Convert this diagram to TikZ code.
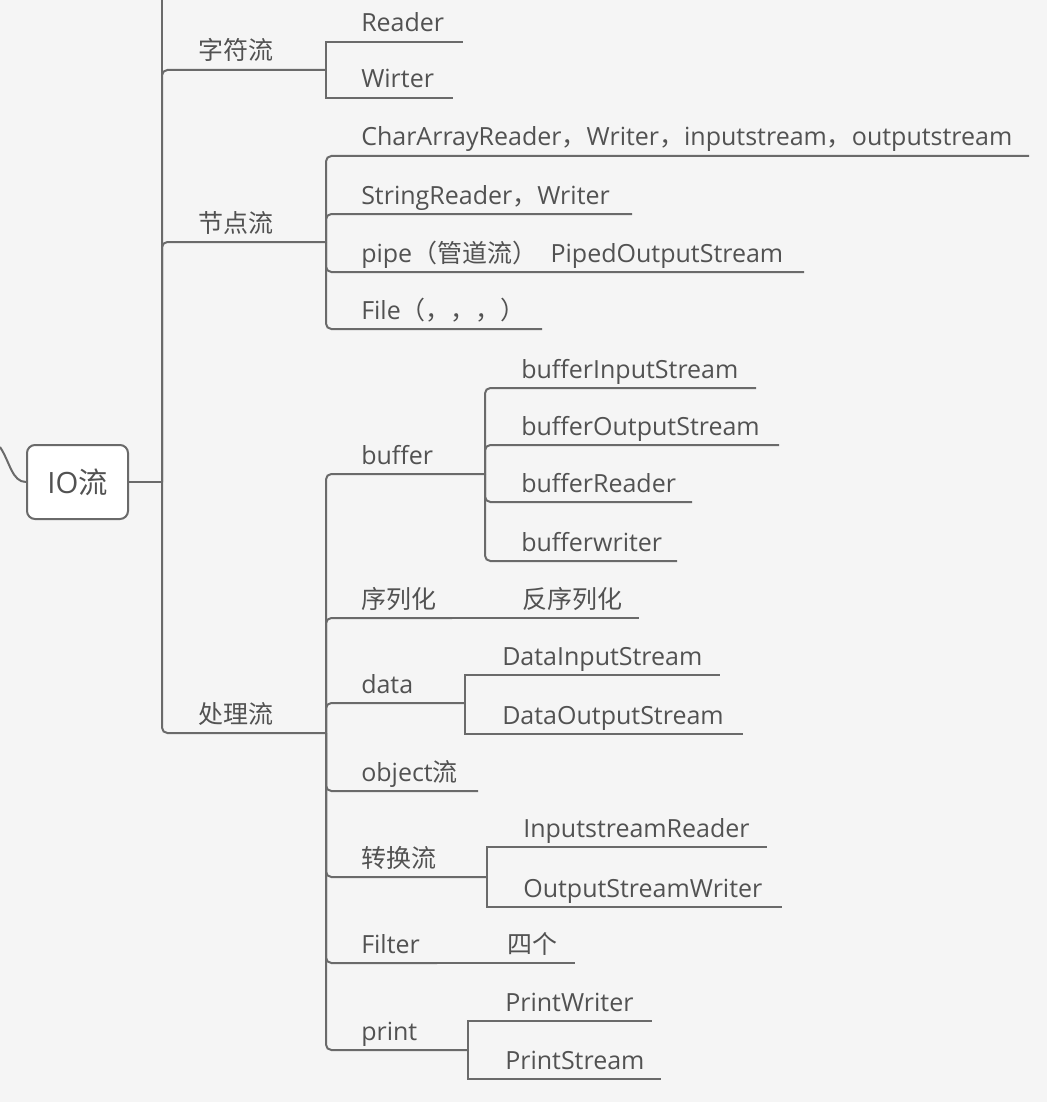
\documentclass[tikz,border=0pt]{standalone}
\usepackage{fontspec}
\setmainfont{Open Sans}
\newfontfamily\cjk{Noto Sans CJK SC}
\definecolor{bgcol}{HTML}{F5F5F5}
\definecolor{lncol}{HTML}{6A6A6A}
\definecolor{txcol}{HTML}{525252}
\newcommand\topicfont{\fontsize{18.75pt}{22pt}\selectfont}
% \topic{name}{text x}{underline y}{underline end x}{text}
\newcommand\topic[5]{%
  \node[tp] (#1) at (#2,#3-10) {#5};
  \coordinate (#1-e) at (#4,#3);}

\tikzset{
  tp/.style={anchor=base west, inner sep=0pt, text=txcol, font=\topicfont},
  br/.style={draw=lncol, line width=1.5pt},
  brr/.style={br, rounded corners=4pt},
  rootbox/.style={draw=lncol, line width=1.5pt, fill=white, rounded corners=6pt,
    minimum width=75.75pt, minimum height=55.5pt, text=txcol,
    font=\fontsize{22pt}{26pt}\selectfont}
}

\begin{document}
\begin{tikzpicture}[x=0.75pt, y=-0.75pt]
	\fill[bgcol] (0,0) rectangle (1047,1102);
	\useasboundingbox (0,0) rectangle (1047,1102);

	% root
	\node[rootbox] (io) at (77.5,482) {IO{\cjk 流}};
	\coordinate (lc) at (0,447);
	\coordinate (io-j) at (162,482);
	\coordinate (top) at (162,0);

	% level 1
	\topic{zifu}{198}{70}{326}{\cjk 字符流}
	\topic{jiedian}{198}{242}{326}{\cjk 节点流}
	\topic{chuli}{198}{733}{326}{\cjk 处理流}

	% zifu
	\topic{reader}{361}{42}{463}{Reader}
	\topic{wirter}{361}{98}{453}{Wirter}

	% jiedian
	\topic{chararr}{361}{156}{1029}{CharArrayReader{\cjk ，}Writer{\cjk ，}inputstream{\cjk ，}outputstream}
	\topic{strrd}{361}{214}{632}{StringReader{\cjk ，}Writer}
	\topic{pipe}{361}{272}{804}{pipe{\cjk （管道流）}\hspace{10pt}PipedOutputStream}
	\topic{file}{361}{329}{542}{File{\cjk （，，，）}}

	% chuli
	\topic{buffer}{361}{474}{485}{buffer}
	\topic{xulie}{361}{618}{452}{\cjk 序列化}
	\topic{fanxulie}{522}{618}{639}{\cjk 反序列化}
	\topic{data}{361}{703}{465}{data}
	\topic{object}{361}{791}{478}{object{\cjk 流}}
	\topic{zhuanhuan}{361}{877}{487}{\cjk 转换流}
	\topic{filter}{361}{963}{437}{Filter}
	\topic{sige}{507}{963}{575}{\cjk 四个}
	\topic{print}{361}{1050}{468}{print}

	% buffer
	\topic{bis}{521}{388}{756}{bufferInputStream}
	\topic{bos}{521}{445}{779}{bufferOutputStream}
	\topic{brd}{521}{502}{692}{bufferReader}
	\topic{bwr}{521}{561}{677}{bufferwriter}

	% data
	\topic{dis}{502}{675}{720}{DataInputStream}
	\topic{dos}{502}{734}{743}{DataOutputStream}

	% zhuanhuan
	\topic{isr}{523}{847}{767}{InputstreamReader}
	\topic{osw}{523}{907}{782}{OutputStreamWriter}

	% print
	\topic{pw}{505}{1021}{652}{PrintWriter}
	\topic{ps}{505}{1079}{661}{PrintStream}

	% connectors
	\draw[br] (lc) .. controls (10,462) and (12,482) .. (io.west);
	\draw[br] (io.east) -- (io-j);
	\draw[br] (io-j) -- (top);
	\foreach \c in {zifu,jiedian,chuli}
		\draw[brr] (io-j) |- (\c-e);
	\foreach \c in {reader,wirter}
		\draw[br] (zifu-e) |- (\c-e);
	\foreach \c in {chararr,strrd,pipe,file}
		\draw[brr] (jiedian-e) |- (\c-e);
	\foreach \c in {buffer,xulie,data,object,zhuanhuan,filter,print}
		\draw[brr] (chuli-e) |- (\c-e);
	\draw[br] (xulie-e) -- (fanxulie-e);
	\draw[br] (filter-e) -- (sige-e);
	\foreach \c in {bis,bos,brd,bwr}
		\draw[brr] (buffer-e) |- (\c-e);
	\foreach \c in {dis,dos}
		\draw[br] (data-e) |- (\c-e);
	\foreach \c in {isr,osw}
		\draw[br] (zhuanhuan-e) |- (\c-e);
	\foreach \c in {pw,ps}
		\draw[br] (print-e) |- (\c-e);
\end{tikzpicture}
\end{document}
